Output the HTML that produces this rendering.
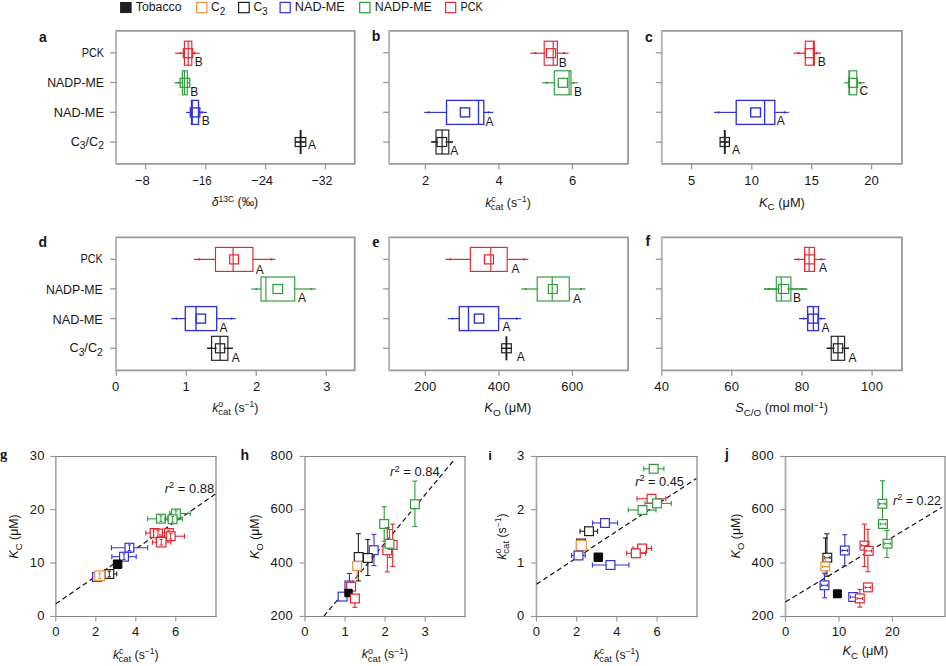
<!DOCTYPE html>
<html><head><meta charset="utf-8"><style>
html,body{margin:0;padding:0;background:#fff;}
svg{display:block;font-family:"Liberation Sans",sans-serif;}
</style></head><body>
<svg width="946" height="666" viewBox="0 0 946 666" fill="#161616">
<rect width="946" height="666" fill="#fff"/>
<rect x="120.60" y="2.50" width="10.50" height="10.10" stroke="#1e1e1e" stroke-width="1.0" fill="#1e1e1e"/>
<text x="135.8" y="11.3" font-size="12" text-anchor="start" textLength="45.7" lengthAdjust="spacingAndGlyphs">Tobacco</text>
<rect x="196.70" y="2.40" width="10.20" height="10.30" stroke="#e8913e" stroke-width="1.2" fill="none"/>
<text x="211.1" y="11.3" font-size="12" text-anchor="start">C<tspan font-size="10" dy="3.6">2</tspan></text>
<rect x="238.60" y="2.40" width="10.60" height="10.30" stroke="#1e1e1e" stroke-width="1.2" fill="none"/>
<text x="253.4" y="11.3" font-size="12" text-anchor="start">C<tspan font-size="10" dy="3.6">3</tspan></text>
<rect x="280.10" y="2.40" width="10.10" height="10.30" stroke="#3333d4" stroke-width="1.2" fill="none"/>
<text x="294.8" y="11.3" font-size="12" text-anchor="start" textLength="50" lengthAdjust="spacingAndGlyphs">NAD-ME</text>
<rect x="359.70" y="2.40" width="10.30" height="10.30" stroke="#2f9a3a" stroke-width="1.2" fill="none"/>
<text x="374.8" y="11.3" font-size="12" text-anchor="start" textLength="57" lengthAdjust="spacingAndGlyphs">NADP-ME</text>
<rect x="445.60" y="2.40" width="10.10" height="10.30" stroke="#e0262e" stroke-width="1.2" fill="none"/>
<text x="460.6" y="11.3" font-size="12" text-anchor="start" textLength="22.2" lengthAdjust="spacingAndGlyphs">PCK</text>
<path d="M116.1,30.8H354.7V163.9H116.1" fill="none" stroke="#999" stroke-width="1.8"/>
<line x1="116.1" y1="29.900000000000002" x2="116.1" y2="164.8" stroke="#b3b3b3" stroke-width="1.9"/>
<path d="M389.1,30.8H628.1V163.9H389.1" fill="none" stroke="#999" stroke-width="1.8"/>
<line x1="389.1" y1="29.900000000000002" x2="389.1" y2="164.8" stroke="#b3b3b3" stroke-width="1.9"/>
<path d="M661.8,30.8H901.9V163.9H661.8" fill="none" stroke="#999" stroke-width="1.8"/>
<line x1="661.8" y1="29.900000000000002" x2="661.8" y2="164.8" stroke="#b3b3b3" stroke-width="1.9"/>
<path d="M116.1,237.4H354.7V370.3H116.1" fill="none" stroke="#999" stroke-width="1.8"/>
<line x1="116.1" y1="236.5" x2="116.1" y2="371.2" stroke="#b3b3b3" stroke-width="1.9"/>
<path d="M389.1,237.4H628.1V370.3H389.1" fill="none" stroke="#999" stroke-width="1.8"/>
<line x1="389.1" y1="236.5" x2="389.1" y2="371.2" stroke="#b3b3b3" stroke-width="1.9"/>
<path d="M661.8,237.4H901.9V370.3H661.8" fill="none" stroke="#999" stroke-width="1.8"/>
<line x1="661.8" y1="236.5" x2="661.8" y2="371.2" stroke="#b3b3b3" stroke-width="1.9"/>
<line x1="110.1" y1="52.8" x2="116.1" y2="52.8" stroke="#9a9a9a" stroke-width="1.3"/>
<line x1="110.1" y1="82.5" x2="116.1" y2="82.5" stroke="#9a9a9a" stroke-width="1.3"/>
<line x1="110.1" y1="112.3" x2="116.1" y2="112.3" stroke="#9a9a9a" stroke-width="1.3"/>
<line x1="110.1" y1="142.1" x2="116.1" y2="142.1" stroke="#9a9a9a" stroke-width="1.3"/>
<line x1="383.1" y1="52.8" x2="389.1" y2="52.8" stroke="#9a9a9a" stroke-width="1.3"/>
<line x1="383.1" y1="82.5" x2="389.1" y2="82.5" stroke="#9a9a9a" stroke-width="1.3"/>
<line x1="383.1" y1="112.3" x2="389.1" y2="112.3" stroke="#9a9a9a" stroke-width="1.3"/>
<line x1="383.1" y1="142.1" x2="389.1" y2="142.1" stroke="#9a9a9a" stroke-width="1.3"/>
<line x1="655.8" y1="52.8" x2="661.8" y2="52.8" stroke="#9a9a9a" stroke-width="1.3"/>
<line x1="655.8" y1="82.5" x2="661.8" y2="82.5" stroke="#9a9a9a" stroke-width="1.3"/>
<line x1="655.8" y1="112.3" x2="661.8" y2="112.3" stroke="#9a9a9a" stroke-width="1.3"/>
<line x1="655.8" y1="142.1" x2="661.8" y2="142.1" stroke="#9a9a9a" stroke-width="1.3"/>
<line x1="110.1" y1="259.3" x2="116.1" y2="259.3" stroke="#9a9a9a" stroke-width="1.3"/>
<line x1="110.1" y1="288.9" x2="116.1" y2="288.9" stroke="#9a9a9a" stroke-width="1.3"/>
<line x1="110.1" y1="318.6" x2="116.1" y2="318.6" stroke="#9a9a9a" stroke-width="1.3"/>
<line x1="110.1" y1="348.3" x2="116.1" y2="348.3" stroke="#9a9a9a" stroke-width="1.3"/>
<line x1="383.1" y1="259.3" x2="389.1" y2="259.3" stroke="#9a9a9a" stroke-width="1.3"/>
<line x1="383.1" y1="288.9" x2="389.1" y2="288.9" stroke="#9a9a9a" stroke-width="1.3"/>
<line x1="383.1" y1="318.6" x2="389.1" y2="318.6" stroke="#9a9a9a" stroke-width="1.3"/>
<line x1="383.1" y1="348.3" x2="389.1" y2="348.3" stroke="#9a9a9a" stroke-width="1.3"/>
<line x1="655.8" y1="259.3" x2="661.8" y2="259.3" stroke="#9a9a9a" stroke-width="1.3"/>
<line x1="655.8" y1="288.9" x2="661.8" y2="288.9" stroke="#9a9a9a" stroke-width="1.3"/>
<line x1="655.8" y1="318.6" x2="661.8" y2="318.6" stroke="#9a9a9a" stroke-width="1.3"/>
<line x1="655.8" y1="348.3" x2="661.8" y2="348.3" stroke="#9a9a9a" stroke-width="1.3"/>
<text x="104" y="56.6" font-size="12.3" text-anchor="end" textLength="22.2" lengthAdjust="spacingAndGlyphs">PCK</text>
<text x="104" y="86.9" font-size="12.3" text-anchor="end" textLength="56.8" lengthAdjust="spacingAndGlyphs">NADP-ME</text>
<text x="104" y="116.9" font-size="12.3" text-anchor="end" textLength="50.3" lengthAdjust="spacingAndGlyphs">NAD-ME</text>
<text x="70.7" y="145.5" font-size="12.3" text-anchor="start" textLength="33.3" lengthAdjust="spacingAndGlyphs">C<tspan font-size="10" dy="3.6">3</tspan><tspan dy="-3.6">/C</tspan><tspan font-size="10" dy="3.6">2</tspan></text>
<text x="102.8" y="263.2" font-size="12.3" text-anchor="end" textLength="22.2" lengthAdjust="spacingAndGlyphs">PCK</text>
<text x="102.8" y="293.5" font-size="12.3" text-anchor="end" textLength="56.8" lengthAdjust="spacingAndGlyphs">NADP-ME</text>
<text x="102.8" y="323.5" font-size="12.3" text-anchor="end" textLength="50.3" lengthAdjust="spacingAndGlyphs">NAD-ME</text>
<text x="69.5" y="352.1" font-size="12.3" text-anchor="start" textLength="33.3" lengthAdjust="spacingAndGlyphs">C<tspan font-size="10" dy="3.6">3</tspan><tspan dy="-3.6">/C</tspan><tspan font-size="10" dy="3.6">2</tspan></text>
<line x1="145.6" y1="163.9" x2="145.6" y2="169.4" stroke="#9a9a9a" stroke-width="1.3"/>
<line x1="205.8" y1="163.9" x2="205.8" y2="169.4" stroke="#9a9a9a" stroke-width="1.3"/>
<line x1="265.6" y1="163.9" x2="265.6" y2="169.4" stroke="#9a9a9a" stroke-width="1.3"/>
<line x1="325.4" y1="163.9" x2="325.4" y2="169.4" stroke="#9a9a9a" stroke-width="1.3"/>
<line x1="425.4" y1="163.9" x2="425.4" y2="169.4" stroke="#9a9a9a" stroke-width="1.3"/>
<line x1="498.9" y1="163.9" x2="498.9" y2="169.4" stroke="#9a9a9a" stroke-width="1.3"/>
<line x1="572.4" y1="163.9" x2="572.4" y2="169.4" stroke="#9a9a9a" stroke-width="1.3"/>
<line x1="691.6" y1="163.9" x2="691.6" y2="169.4" stroke="#9a9a9a" stroke-width="1.3"/>
<line x1="751.8" y1="163.9" x2="751.8" y2="169.4" stroke="#9a9a9a" stroke-width="1.3"/>
<line x1="811.7" y1="163.9" x2="811.7" y2="169.4" stroke="#9a9a9a" stroke-width="1.3"/>
<line x1="871.6" y1="163.9" x2="871.6" y2="169.4" stroke="#9a9a9a" stroke-width="1.3"/>
<line x1="116.3" y1="370.3" x2="116.3" y2="375.8" stroke="#9a9a9a" stroke-width="1.3"/>
<line x1="186.3" y1="370.3" x2="186.3" y2="375.8" stroke="#9a9a9a" stroke-width="1.3"/>
<line x1="256.3" y1="370.3" x2="256.3" y2="375.8" stroke="#9a9a9a" stroke-width="1.3"/>
<line x1="326.3" y1="370.3" x2="326.3" y2="375.8" stroke="#9a9a9a" stroke-width="1.3"/>
<line x1="425.4" y1="370.3" x2="425.4" y2="375.8" stroke="#9a9a9a" stroke-width="1.3"/>
<line x1="499.0" y1="370.3" x2="499.0" y2="375.8" stroke="#9a9a9a" stroke-width="1.3"/>
<line x1="572.4" y1="370.3" x2="572.4" y2="375.8" stroke="#9a9a9a" stroke-width="1.3"/>
<line x1="661.8" y1="370.3" x2="661.8" y2="375.8" stroke="#9a9a9a" stroke-width="1.3"/>
<line x1="731.8" y1="370.3" x2="731.8" y2="375.8" stroke="#9a9a9a" stroke-width="1.3"/>
<line x1="802.0" y1="370.3" x2="802.0" y2="375.8" stroke="#9a9a9a" stroke-width="1.3"/>
<line x1="872.1" y1="370.3" x2="872.1" y2="375.8" stroke="#9a9a9a" stroke-width="1.3"/>
<text x="134.79999999999998" y="185.1" font-size="12.8" text-anchor="start" textLength="15.0" lengthAdjust="spacingAndGlyphs">−8</text>
<text x="192.29999999999998" y="185.1" font-size="12.8" text-anchor="start" textLength="19.2" lengthAdjust="spacingAndGlyphs">−16</text>
<text x="251.1" y="185.1" font-size="12.8" text-anchor="start" textLength="22.0" lengthAdjust="spacingAndGlyphs">−24</text>
<text x="311.59999999999997" y="185.1" font-size="12.8" text-anchor="start" textLength="20.8" lengthAdjust="spacingAndGlyphs">−32</text>
<text x="425.6" y="185.1" font-size="13" text-anchor="middle">2</text>
<text x="499.0" y="185.1" font-size="13" text-anchor="middle">4</text>
<text x="572.5" y="185.1" font-size="13" text-anchor="middle">6</text>
<text x="691.6" y="185.1" font-size="13" text-anchor="middle" letter-spacing="0.2">5</text>
<text x="751.8" y="185.1" font-size="13" text-anchor="middle" letter-spacing="0.2">10</text>
<text x="811.7" y="185.1" font-size="13" text-anchor="middle" letter-spacing="0.2">15</text>
<text x="871.6" y="185.1" font-size="13" text-anchor="middle" letter-spacing="0.2">20</text>
<text x="115.6" y="390.8" font-size="13" text-anchor="middle">0</text>
<text x="186.0" y="390.8" font-size="13" text-anchor="middle">1</text>
<text x="256.7" y="390.8" font-size="13" text-anchor="middle">2</text>
<text x="326.9" y="390.8" font-size="13" text-anchor="middle">3</text>
<text x="425.4" y="390.8" font-size="13" text-anchor="middle" letter-spacing="0.2">200</text>
<text x="499.0" y="390.8" font-size="13" text-anchor="middle" letter-spacing="0.2">400</text>
<text x="572.4" y="390.8" font-size="13" text-anchor="middle" letter-spacing="0.2">600</text>
<text x="661.8" y="390.8" font-size="13" text-anchor="middle" letter-spacing="0.2">40</text>
<text x="731.8" y="390.8" font-size="13" text-anchor="middle" letter-spacing="0.2">60</text>
<text x="802.1" y="390.8" font-size="13" text-anchor="middle" letter-spacing="0.2">80</text>
<text x="872.1" y="390.8" font-size="13" text-anchor="middle" letter-spacing="0.2">100</text>
<text x="211.7" y="206.2" font-size="12.3" text-anchor="start"><tspan font-style="italic">δ</tspan><tspan font-size="8.5" dy="-4.5">13C</tspan><tspan dy="4.5"> (‰)</tspan></text>
<text x="485.2" y="206.6" font-size="12.3" text-anchor="start"><tspan font-style="italic">k</tspan><tspan font-size="8.8" dy="-4.3">c</tspan><tspan font-size="9.5" dx="-5" dy="8">cat</tspan><tspan dy="-3.7"> (s</tspan><tspan font-size="8.5" dy="-4.3">−1</tspan><tspan dy="4.3">)</tspan></text>
<text x="758.9" y="206.6" font-size="12.3" text-anchor="start" textLength="46" lengthAdjust="spacingAndGlyphs"><tspan font-style="italic">K</tspan><tspan font-size="9.5" dy="3.5">C</tspan><tspan dy="-3.5"> (μM)</tspan></text>
<text x="212.2" y="411.7" font-size="12.3" text-anchor="start"><tspan font-style="italic">k</tspan><tspan font-size="8.8" dy="-4.3">o</tspan><tspan font-size="9.5" dx="-5" dy="8">cat</tspan><tspan dy="-3.7"> (s</tspan><tspan font-size="8.5" dy="-4.3">−1</tspan><tspan dy="4.3">)</tspan></text>
<text x="484.3" y="412.0" font-size="12.3" text-anchor="start" textLength="47" lengthAdjust="spacingAndGlyphs"><tspan font-style="italic">K</tspan><tspan font-size="9.5" dy="3.5">O</tspan><tspan dy="-3.5"> (μM)</tspan></text>
<text x="735.2" y="412.0" font-size="12.3" text-anchor="start" textLength="92.8" lengthAdjust="spacingAndGlyphs"><tspan font-style="italic">S</tspan><tspan font-size="9.5" dy="3.5">C/O</tspan><tspan dy="-3.5"> (mol mol</tspan><tspan font-size="8.5" dy="-4.3">−1</tspan><tspan dy="4.3">)</tspan></text>
<text x="39" y="41.6" font-size="14" text-anchor="start" font-weight="bold">a</text>
<text x="371.7" y="41.4" font-size="14" text-anchor="start" font-weight="bold">b</text>
<text x="645" y="41.6" font-size="14" text-anchor="start" font-weight="bold">c</text>
<text x="38.4" y="246.5" font-size="14" text-anchor="start" font-weight="bold">d</text>
<text x="372.3" y="246.8" font-size="16" text-anchor="start" font-family="Liberation Serif" font-weight="bold">e</text>
<text x="645.6" y="246.4" font-size="14" text-anchor="start" font-weight="bold">f</text>
<line x1="175.2" y1="53.2" x2="184.4" y2="53.2" stroke="#e0262e" stroke-width="1.2"/>
<line x1="191.8" y1="53.2" x2="199.7" y2="53.2" stroke="#e0262e" stroke-width="1.2"/>
<circle cx="180.4" cy="53.2" r="1.1" fill="#e0262e"/>
<circle cx="194.5" cy="53.2" r="1.1" fill="#e0262e"/>
<rect x="184.40" y="41.20" width="7.40" height="24.00" stroke="#e0262e" stroke-width="1.15" fill="none"/>
<line x1="188.2" y1="41.2" x2="188.2" y2="65.2" stroke="#e0262e" stroke-width="1.15"/>
<rect x="183.30" y="48.70" width="9.40" height="9.00" stroke="#e0262e" stroke-width="1.2" fill="none"/>
<text x="194.79999999999998" y="65.9" font-size="12" text-anchor="start">B</text>
<line x1="174.5" y1="82.8" x2="182.4" y2="82.8" stroke="#2f9a3a" stroke-width="1.2"/>
<line x1="187.3" y1="82.8" x2="189.5" y2="82.8" stroke="#2f9a3a" stroke-width="1.2"/>
<circle cx="178.5" cy="82.8" r="1.1" fill="#2f9a3a"/>
<rect x="182.40" y="70.80" width="4.90" height="24.00" stroke="#2f9a3a" stroke-width="1.15" fill="none"/>
<line x1="184.4" y1="70.8" x2="184.4" y2="94.8" stroke="#2f9a3a" stroke-width="1.15"/>
<rect x="180.10" y="78.30" width="9.70" height="9.00" stroke="#2f9a3a" stroke-width="1.2" fill="none"/>
<text x="190.29999999999998" y="96.4" font-size="12" text-anchor="start">B</text>
<line x1="186.1" y1="112.4" x2="191.5" y2="112.4" stroke="#3333d4" stroke-width="1.2"/>
<line x1="198.5" y1="112.4" x2="206.8" y2="112.4" stroke="#3333d4" stroke-width="1.2"/>
<circle cx="202.0" cy="112.4" r="1.1" fill="#3333d4"/>
<rect x="191.50" y="100.40" width="7.00" height="24.00" stroke="#3333d4" stroke-width="1.35" fill="none"/>
<line x1="192.2" y1="100.4" x2="192.2" y2="124.4" stroke="#3333d4" stroke-width="1.35"/>
<rect x="190.40" y="107.90" width="9.40" height="9.00" stroke="#3333d4" stroke-width="1.4000000000000001" fill="none"/>
<text x="201.79999999999998" y="125.3" font-size="12" text-anchor="start">B</text>
<line x1="295.2" y1="142.0" x2="299.9" y2="142.0" stroke="#1e1e1e" stroke-width="1.2"/>
<line x1="301.4" y1="142.0" x2="305.8" y2="142.0" stroke="#1e1e1e" stroke-width="1.2"/>
<line x1="300.65" y1="130.0" x2="300.65" y2="154.0" stroke="#1e1e1e" stroke-width="1.9"/>
<rect x="295.20" y="137.50" width="10.60" height="9.00" stroke="#1e1e1e" stroke-width="1.2" fill="none"/>
<text x="307.9" y="148.7" font-size="12" text-anchor="start">A</text>
<line x1="295.2" y1="142.0" x2="305.8" y2="142.0" stroke="#1e1e1e" stroke-width="1.1"/>
<line x1="530.4" y1="53.2" x2="544.2" y2="53.2" stroke="#e0262e" stroke-width="1.2"/>
<line x1="557.4" y1="53.2" x2="568.7" y2="53.2" stroke="#e0262e" stroke-width="1.2"/>
<circle cx="535.4" cy="53.2" r="1.1" fill="#e0262e"/>
<circle cx="563.9" cy="53.2" r="1.1" fill="#e0262e"/>
<rect x="544.20" y="41.20" width="13.20" height="24.00" stroke="#e0262e" stroke-width="1.15" fill="none"/>
<line x1="553.2" y1="41.2" x2="553.2" y2="65.2" stroke="#e0262e" stroke-width="1.15"/>
<rect x="546.40" y="48.70" width="9.20" height="9.00" stroke="#e0262e" stroke-width="1.2" fill="none"/>
<text x="558.8000000000001" y="66.6" font-size="12" text-anchor="start">B</text>
<line x1="542.1" y1="82.8" x2="554.3" y2="82.8" stroke="#2f9a3a" stroke-width="1.2"/>
<line x1="571.0" y1="82.8" x2="577.7" y2="82.8" stroke="#2f9a3a" stroke-width="1.2"/>
<circle cx="547.1" cy="82.8" r="1.1" fill="#2f9a3a"/>
<circle cx="573.6" cy="82.8" r="1.1" fill="#2f9a3a"/>
<rect x="554.30" y="70.80" width="16.70" height="24.00" stroke="#2f9a3a" stroke-width="1.15" fill="none"/>
<line x1="569.1" y1="70.8" x2="569.1" y2="94.8" stroke="#2f9a3a" stroke-width="1.15"/>
<rect x="558.30" y="78.30" width="9.20" height="9.00" stroke="#2f9a3a" stroke-width="1.2" fill="none"/>
<text x="574.1" y="96.1" font-size="12" text-anchor="start">B</text>
<line x1="424.2" y1="112.4" x2="446.5" y2="112.4" stroke="#3333d4" stroke-width="1.2"/>
<line x1="483.8" y1="112.4" x2="493.3" y2="112.4" stroke="#3333d4" stroke-width="1.2"/>
<circle cx="428.7" cy="112.4" r="1.1" fill="#3333d4"/>
<circle cx="488.5" cy="112.4" r="1.1" fill="#3333d4"/>
<rect x="446.50" y="100.40" width="37.30" height="24.00" stroke="#3333d4" stroke-width="1.35" fill="none"/>
<line x1="478.5" y1="100.4" x2="478.5" y2="124.4" stroke="#3333d4" stroke-width="1.35"/>
<rect x="460.40" y="107.90" width="9.20" height="9.00" stroke="#3333d4" stroke-width="1.4000000000000001" fill="none"/>
<text x="485.6" y="126.2" font-size="12" text-anchor="start">A</text>
<line x1="431.3" y1="142.0" x2="438.2" y2="142.0" stroke="#1e1e1e" stroke-width="1.2"/>
<line x1="445.5" y1="142.0" x2="453.0" y2="142.0" stroke="#1e1e1e" stroke-width="1.2"/>
<line x1="431.3" y1="142.0" x2="436.0" y2="142.0" stroke="#1e1e1e" stroke-width="1.2"/>
<line x1="448.8" y1="142.0" x2="453.0" y2="142.0" stroke="#1e1e1e" stroke-width="1.2"/>
<rect x="436.00" y="130.00" width="12.80" height="24.00" stroke="#1e1e1e" stroke-width="1.15" fill="none"/>
<line x1="442.1" y1="130.0" x2="442.1" y2="154.0" stroke="#1e1e1e" stroke-width="1.15"/>
<rect x="437.00" y="137.50" width="9.70" height="9.00" stroke="#1e1e1e" stroke-width="1.2" fill="none"/>
<text x="450.2" y="155.1" font-size="12" text-anchor="start">A</text>
<line x1="793.6" y1="53.2" x2="805.3" y2="53.2" stroke="#e0262e" stroke-width="1.2"/>
<line x1="814.3" y1="53.2" x2="821.1" y2="53.2" stroke="#e0262e" stroke-width="1.2"/>
<circle cx="798.6" cy="53.2" r="1.1" fill="#e0262e"/>
<circle cx="816.6" cy="53.2" r="1.1" fill="#e0262e"/>
<rect x="805.30" y="41.20" width="9.00" height="24.00" stroke="#e0262e" stroke-width="1.15" fill="none"/>
<line x1="813.4" y1="41.2" x2="813.4" y2="65.2" stroke="#e0262e" stroke-width="1.15"/>
<rect x="805.30" y="48.70" width="9.00" height="9.00" stroke="#e0262e" stroke-width="1.2" fill="none"/>
<text x="817.7" y="65.5" font-size="12" text-anchor="start">B</text>
<line x1="844.0" y1="82.8" x2="849.0" y2="82.8" stroke="#2f9a3a" stroke-width="1.2"/>
<line x1="856.8" y1="82.8" x2="864.8" y2="82.8" stroke="#2f9a3a" stroke-width="1.2"/>
<circle cx="860.3" cy="82.8" r="1.1" fill="#2f9a3a"/>
<rect x="849.00" y="70.80" width="7.80" height="24.00" stroke="#2f9a3a" stroke-width="1.15" fill="none"/>
<line x1="849.5" y1="70.8" x2="849.5" y2="94.8" stroke="#2f9a3a" stroke-width="1.15"/>
<rect x="848.50" y="78.30" width="9.00" height="9.00" stroke="#2f9a3a" stroke-width="1.2" fill="none"/>
<text x="859.4" y="95.2" font-size="12" text-anchor="start">C</text>
<line x1="714.0" y1="112.4" x2="736.2" y2="112.4" stroke="#3333d4" stroke-width="1.2"/>
<line x1="774.8" y1="112.4" x2="788.8" y2="112.4" stroke="#3333d4" stroke-width="1.2"/>
<circle cx="718.5" cy="112.4" r="1.1" fill="#3333d4"/>
<circle cx="784.6" cy="112.4" r="1.1" fill="#3333d4"/>
<rect x="736.20" y="100.40" width="38.60" height="24.00" stroke="#3333d4" stroke-width="1.35" fill="none"/>
<line x1="764.6" y1="100.4" x2="764.6" y2="124.4" stroke="#3333d4" stroke-width="1.35"/>
<rect x="750.70" y="107.90" width="9.80" height="9.00" stroke="#3333d4" stroke-width="1.4000000000000001" fill="none"/>
<text x="776.8" y="124.8" font-size="12" text-anchor="start">A</text>
<line x1="720.1" y1="142.0" x2="723.9" y2="142.0" stroke="#1e1e1e" stroke-width="1.2"/>
<line x1="725.7" y1="142.0" x2="729.4" y2="142.0" stroke="#1e1e1e" stroke-width="1.2"/>
<line x1="724.8" y1="130.0" x2="724.8" y2="154.0" stroke="#1e1e1e" stroke-width="1.9"/>
<rect x="720.10" y="137.50" width="9.30" height="9.00" stroke="#1e1e1e" stroke-width="1.2" fill="none"/>
<text x="731.9" y="154.4" font-size="12" text-anchor="start">A</text>
<line x1="720.1" y1="142.0" x2="729.4" y2="142.0" stroke="#1e1e1e" stroke-width="1.1"/>
<line x1="193.8" y1="259.4" x2="215.5" y2="259.4" stroke="#e0262e" stroke-width="1.2"/>
<line x1="252.9" y1="259.4" x2="275.3" y2="259.4" stroke="#e0262e" stroke-width="1.2"/>
<circle cx="199.0" cy="259.4" r="1.1" fill="#e0262e"/>
<circle cx="271.2" cy="259.4" r="1.1" fill="#e0262e"/>
<rect x="215.50" y="247.40" width="37.40" height="24.00" stroke="#e0262e" stroke-width="1.15" fill="none"/>
<line x1="233.1" y1="247.39999999999998" x2="233.1" y2="271.4" stroke="#e0262e" stroke-width="1.15"/>
<rect x="229.70" y="254.90" width="8.80" height="9.00" stroke="#e0262e" stroke-width="1.2" fill="none"/>
<text x="255.8" y="273.5" font-size="12" text-anchor="start">A</text>
<line x1="251.3" y1="289.0" x2="261.0" y2="289.0" stroke="#2f9a3a" stroke-width="1.2"/>
<line x1="294.7" y1="289.0" x2="315.8" y2="289.0" stroke="#2f9a3a" stroke-width="1.2"/>
<circle cx="256.3" cy="289.0" r="1.1" fill="#2f9a3a"/>
<circle cx="311.3" cy="289.0" r="1.1" fill="#2f9a3a"/>
<rect x="261.00" y="277.00" width="33.70" height="24.00" stroke="#2f9a3a" stroke-width="1.15" fill="none"/>
<line x1="265.9" y1="277.0" x2="265.9" y2="301.0" stroke="#2f9a3a" stroke-width="1.15"/>
<rect x="273.00" y="284.50" width="9.60" height="9.00" stroke="#2f9a3a" stroke-width="1.2" fill="none"/>
<text x="298.0" y="301.5" font-size="12" text-anchor="start">A</text>
<line x1="171.3" y1="318.6" x2="185.3" y2="318.6" stroke="#3333d4" stroke-width="1.2"/>
<line x1="216.7" y1="318.6" x2="235.7" y2="318.6" stroke="#3333d4" stroke-width="1.2"/>
<circle cx="176.5" cy="318.6" r="1.1" fill="#3333d4"/>
<circle cx="231.3" cy="318.6" r="1.1" fill="#3333d4"/>
<rect x="185.30" y="306.60" width="31.40" height="24.00" stroke="#3333d4" stroke-width="1.35" fill="none"/>
<line x1="196.0" y1="306.6" x2="196.0" y2="330.6" stroke="#3333d4" stroke-width="1.35"/>
<rect x="196.20" y="314.10" width="9.30" height="9.00" stroke="#3333d4" stroke-width="1.4000000000000001" fill="none"/>
<text x="219.6" y="332.0" font-size="12" text-anchor="start">A</text>
<line x1="207.1" y1="348.3" x2="216.7" y2="348.3" stroke="#1e1e1e" stroke-width="1.2"/>
<line x1="223.5" y1="348.3" x2="232.8" y2="348.3" stroke="#1e1e1e" stroke-width="1.2"/>
<line x1="207.1" y1="348.3" x2="211.6" y2="348.3" stroke="#1e1e1e" stroke-width="1.2"/>
<line x1="227.9" y1="348.3" x2="232.8" y2="348.3" stroke="#1e1e1e" stroke-width="1.2"/>
<rect x="211.60" y="336.30" width="16.30" height="24.00" stroke="#1e1e1e" stroke-width="1.15" fill="none"/>
<line x1="220.1" y1="336.3" x2="220.1" y2="360.3" stroke="#1e1e1e" stroke-width="1.15"/>
<rect x="215.50" y="343.80" width="9.20" height="9.00" stroke="#1e1e1e" stroke-width="1.2" fill="none"/>
<text x="231.8" y="362.0" font-size="12" text-anchor="start">A</text>
<line x1="445.4" y1="259.4" x2="470.3" y2="259.4" stroke="#e0262e" stroke-width="1.2"/>
<line x1="507.2" y1="259.4" x2="528.4" y2="259.4" stroke="#e0262e" stroke-width="1.2"/>
<circle cx="450.3" cy="259.4" r="1.1" fill="#e0262e"/>
<circle cx="523.8" cy="259.4" r="1.1" fill="#e0262e"/>
<rect x="470.30" y="247.40" width="36.90" height="24.00" stroke="#e0262e" stroke-width="1.15" fill="none"/>
<line x1="490.8" y1="247.39999999999998" x2="490.8" y2="271.4" stroke="#e0262e" stroke-width="1.15"/>
<rect x="484.40" y="254.90" width="9.10" height="9.00" stroke="#e0262e" stroke-width="1.2" fill="none"/>
<text x="511.5" y="272.6" font-size="12" text-anchor="start">A</text>
<line x1="521.1" y1="289.0" x2="537.2" y2="289.0" stroke="#2f9a3a" stroke-width="1.2"/>
<line x1="569.3" y1="289.0" x2="585.6" y2="289.0" stroke="#2f9a3a" stroke-width="1.2"/>
<circle cx="525.6" cy="289.0" r="1.1" fill="#2f9a3a"/>
<circle cx="581.0" cy="289.0" r="1.1" fill="#2f9a3a"/>
<rect x="537.20" y="277.00" width="32.10" height="24.00" stroke="#2f9a3a" stroke-width="1.15" fill="none"/>
<line x1="552.2" y1="277.0" x2="552.2" y2="301.0" stroke="#2f9a3a" stroke-width="1.15"/>
<rect x="548.40" y="284.50" width="8.90" height="9.00" stroke="#2f9a3a" stroke-width="1.2" fill="none"/>
<text x="572.9" y="302.6" font-size="12" text-anchor="start">A</text>
<line x1="447.8" y1="318.6" x2="459.3" y2="318.6" stroke="#3333d4" stroke-width="1.2"/>
<line x1="498.6" y1="318.6" x2="521.1" y2="318.6" stroke="#3333d4" stroke-width="1.2"/>
<circle cx="452.5" cy="318.6" r="1.1" fill="#3333d4"/>
<circle cx="516.7" cy="318.6" r="1.1" fill="#3333d4"/>
<rect x="459.30" y="306.60" width="39.30" height="24.00" stroke="#3333d4" stroke-width="1.35" fill="none"/>
<line x1="468.5" y1="306.6" x2="468.5" y2="330.6" stroke="#3333d4" stroke-width="1.35"/>
<rect x="474.40" y="314.10" width="9.30" height="9.00" stroke="#3333d4" stroke-width="1.4000000000000001" fill="none"/>
<text x="502.5" y="331.4" font-size="12" text-anchor="start">A</text>
<line x1="501.7" y1="348.3" x2="505.6" y2="348.3" stroke="#1e1e1e" stroke-width="1.2"/>
<line x1="507.2" y1="348.3" x2="511.3" y2="348.3" stroke="#1e1e1e" stroke-width="1.2"/>
<line x1="506.4" y1="336.3" x2="506.4" y2="360.3" stroke="#1e1e1e" stroke-width="1.9"/>
<rect x="501.70" y="343.80" width="9.60" height="9.00" stroke="#1e1e1e" stroke-width="1.2" fill="none"/>
<text x="516.7" y="360.5" font-size="12" text-anchor="start">A</text>
<line x1="501.7" y1="348.3" x2="511.3" y2="348.3" stroke="#1e1e1e" stroke-width="1.1"/>
<line x1="793.8" y1="259.4" x2="804.6" y2="259.4" stroke="#e0262e" stroke-width="1.2"/>
<line x1="814.5" y1="259.4" x2="825.4" y2="259.4" stroke="#e0262e" stroke-width="1.2"/>
<circle cx="798.4" cy="259.4" r="1.1" fill="#e0262e"/>
<circle cx="821.3" cy="259.4" r="1.1" fill="#e0262e"/>
<rect x="804.60" y="247.40" width="9.90" height="24.00" stroke="#e0262e" stroke-width="1.15" fill="none"/>
<line x1="809.1" y1="247.39999999999998" x2="809.1" y2="271.4" stroke="#e0262e" stroke-width="1.15"/>
<rect x="804.60" y="254.90" width="9.90" height="9.00" stroke="#e0262e" stroke-width="1.2" fill="none"/>
<text x="818.9" y="272.3" font-size="12" text-anchor="start">A</text>
<line x1="764.0" y1="289.0" x2="779.6" y2="289.0" stroke="#2f9a3a" stroke-width="1.2"/>
<line x1="787.5" y1="289.0" x2="807.2" y2="289.0" stroke="#2f9a3a" stroke-width="1.2"/>
<line x1="764.0" y1="289.0" x2="776.3" y2="289.0" stroke="#2f9a3a" stroke-width="1.2"/>
<line x1="790.9" y1="289.0" x2="807.2" y2="289.0" stroke="#2f9a3a" stroke-width="1.2"/>
<circle cx="768.7" cy="289.0" r="1.1" fill="#2f9a3a"/>
<circle cx="802.6" cy="289.0" r="1.1" fill="#2f9a3a"/>
<rect x="776.30" y="277.00" width="14.60" height="24.00" stroke="#2f9a3a" stroke-width="1.15" fill="none"/>
<line x1="781.3" y1="277.0" x2="781.3" y2="301.0" stroke="#2f9a3a" stroke-width="1.15"/>
<rect x="778.40" y="284.50" width="10.30" height="9.00" stroke="#2f9a3a" stroke-width="1.2" fill="none"/>
<text x="792.9" y="302.0" font-size="12" text-anchor="start">B</text>
<line x1="799.0" y1="318.6" x2="807.6" y2="318.6" stroke="#3333d4" stroke-width="1.2"/>
<line x1="818.5" y1="318.6" x2="825.6" y2="318.6" stroke="#3333d4" stroke-width="1.2"/>
<circle cx="803.7" cy="318.6" r="1.1" fill="#3333d4"/>
<circle cx="821.0" cy="318.6" r="1.1" fill="#3333d4"/>
<rect x="807.60" y="306.60" width="10.90" height="24.00" stroke="#3333d4" stroke-width="1.35" fill="none"/>
<line x1="813.4" y1="306.6" x2="813.4" y2="330.6" stroke="#3333d4" stroke-width="1.35"/>
<rect x="808.00" y="314.10" width="10.00" height="9.00" stroke="#3333d4" stroke-width="1.4000000000000001" fill="none"/>
<text x="821.4" y="332.2" font-size="12" text-anchor="start">A</text>
<line x1="826.6" y1="348.3" x2="834.6" y2="348.3" stroke="#1e1e1e" stroke-width="1.2"/>
<line x1="841.5" y1="348.3" x2="849.0" y2="348.3" stroke="#1e1e1e" stroke-width="1.2"/>
<line x1="826.6" y1="348.3" x2="831.2" y2="348.3" stroke="#1e1e1e" stroke-width="1.2"/>
<line x1="844.6" y1="348.3" x2="849.0" y2="348.3" stroke="#1e1e1e" stroke-width="1.2"/>
<rect x="831.20" y="336.30" width="13.40" height="24.00" stroke="#1e1e1e" stroke-width="1.15" fill="none"/>
<line x1="838.0" y1="336.3" x2="838.0" y2="360.3" stroke="#1e1e1e" stroke-width="1.15"/>
<rect x="833.40" y="343.80" width="9.30" height="9.00" stroke="#1e1e1e" stroke-width="1.2" fill="none"/>
<text x="848.5" y="361.5" font-size="12" text-anchor="start">A</text>
<path d="M55.8,456.5V616.5M216.0,456.5V616.5" fill="none" stroke="#a8a8a8" stroke-width="1.7"/>
<path d="M55.0,456.5H216.8M55.0,616.5H216.8" fill="none" stroke="#858585" stroke-width="1.2"/>
<path d="M305.0,456.5V616.5M465.0,456.5V616.5" fill="none" stroke="#a8a8a8" stroke-width="1.7"/>
<path d="M304.2,456.5H465.8M304.2,616.5H465.8" fill="none" stroke="#858585" stroke-width="1.2"/>
<path d="M536.5,456.5V616.5M697.0,456.5V616.5" fill="none" stroke="#a8a8a8" stroke-width="1.7"/>
<path d="M535.7,456.5H697.8M535.7,616.5H697.8" fill="none" stroke="#858585" stroke-width="1.2"/>
<path d="M785.5,456.5V616.5M945.0,456.5V616.5" fill="none" stroke="#a8a8a8" stroke-width="1.7"/>
<path d="M784.7,456.5H945.8M784.7,616.5H945.8" fill="none" stroke="#858585" stroke-width="1.2"/>
<line x1="50.3" y1="616.5" x2="55.8" y2="616.5" stroke="#9a9a9a" stroke-width="1.2"/>
<line x1="50.3" y1="563.0" x2="55.8" y2="563.0" stroke="#9a9a9a" stroke-width="1.2"/>
<line x1="50.3" y1="509.6" x2="55.8" y2="509.6" stroke="#9a9a9a" stroke-width="1.2"/>
<line x1="50.3" y1="456.5" x2="55.8" y2="456.5" stroke="#9a9a9a" stroke-width="1.2"/>
<line x1="299.5" y1="616.5" x2="305.0" y2="616.5" stroke="#9a9a9a" stroke-width="1.2"/>
<line x1="299.5" y1="563.0" x2="305.0" y2="563.0" stroke="#9a9a9a" stroke-width="1.2"/>
<line x1="299.5" y1="509.6" x2="305.0" y2="509.6" stroke="#9a9a9a" stroke-width="1.2"/>
<line x1="299.5" y1="456.5" x2="305.0" y2="456.5" stroke="#9a9a9a" stroke-width="1.2"/>
<line x1="531.0" y1="616.5" x2="536.5" y2="616.5" stroke="#9a9a9a" stroke-width="1.2"/>
<line x1="531.0" y1="563.0" x2="536.5" y2="563.0" stroke="#9a9a9a" stroke-width="1.2"/>
<line x1="531.0" y1="509.6" x2="536.5" y2="509.6" stroke="#9a9a9a" stroke-width="1.2"/>
<line x1="531.0" y1="456.5" x2="536.5" y2="456.5" stroke="#9a9a9a" stroke-width="1.2"/>
<line x1="780.0" y1="616.5" x2="785.5" y2="616.5" stroke="#9a9a9a" stroke-width="1.2"/>
<line x1="780.0" y1="563.0" x2="785.5" y2="563.0" stroke="#9a9a9a" stroke-width="1.2"/>
<line x1="780.0" y1="509.6" x2="785.5" y2="509.6" stroke="#9a9a9a" stroke-width="1.2"/>
<line x1="780.0" y1="456.5" x2="785.5" y2="456.5" stroke="#9a9a9a" stroke-width="1.2"/>
<line x1="55.8" y1="616.5" x2="55.8" y2="621.5" stroke="#9a9a9a" stroke-width="1.2"/>
<line x1="95.8" y1="616.5" x2="95.8" y2="621.5" stroke="#9a9a9a" stroke-width="1.2"/>
<line x1="135.8" y1="616.5" x2="135.8" y2="621.5" stroke="#9a9a9a" stroke-width="1.2"/>
<line x1="175.8" y1="616.5" x2="175.8" y2="621.5" stroke="#9a9a9a" stroke-width="1.2"/>
<line x1="305.0" y1="616.5" x2="305.0" y2="621.5" stroke="#9a9a9a" stroke-width="1.2"/>
<line x1="345.1" y1="616.5" x2="345.1" y2="621.5" stroke="#9a9a9a" stroke-width="1.2"/>
<line x1="385.1" y1="616.5" x2="385.1" y2="621.5" stroke="#9a9a9a" stroke-width="1.2"/>
<line x1="425.2" y1="616.5" x2="425.2" y2="621.5" stroke="#9a9a9a" stroke-width="1.2"/>
<line x1="536.5" y1="616.5" x2="536.5" y2="621.5" stroke="#9a9a9a" stroke-width="1.2"/>
<line x1="576.7" y1="616.5" x2="576.7" y2="621.5" stroke="#9a9a9a" stroke-width="1.2"/>
<line x1="616.9" y1="616.5" x2="616.9" y2="621.5" stroke="#9a9a9a" stroke-width="1.2"/>
<line x1="657.1" y1="616.5" x2="657.1" y2="621.5" stroke="#9a9a9a" stroke-width="1.2"/>
<line x1="785.5" y1="616.5" x2="785.5" y2="621.5" stroke="#9a9a9a" stroke-width="1.2"/>
<line x1="839.0" y1="616.5" x2="839.0" y2="621.5" stroke="#9a9a9a" stroke-width="1.2"/>
<line x1="892.4" y1="616.5" x2="892.4" y2="621.5" stroke="#9a9a9a" stroke-width="1.2"/>
<text x="44.8" y="620.2" font-size="13" text-anchor="end" letter-spacing="0.25">0</text>
<text x="44.8" y="567.2" font-size="13" text-anchor="end" letter-spacing="0.25">10</text>
<text x="44.8" y="513.6" font-size="13" text-anchor="end" letter-spacing="0.25">20</text>
<text x="44.8" y="460.3" font-size="13" text-anchor="end" letter-spacing="0.25">30</text>
<text x="293.0" y="619.9" font-size="13" text-anchor="end" letter-spacing="0.25">200</text>
<text x="293.0" y="566.7" font-size="13" text-anchor="end" letter-spacing="0.25">400</text>
<text x="293.0" y="513.3" font-size="13" text-anchor="end" letter-spacing="0.25">600</text>
<text x="293.0" y="460.1" font-size="13" text-anchor="end" letter-spacing="0.25">800</text>
<text x="524.6" y="620.2" font-size="13" text-anchor="end" letter-spacing="0.25">0</text>
<text x="524.6" y="567.2" font-size="13" text-anchor="end" letter-spacing="0.25">1</text>
<text x="524.6" y="513.6" font-size="13" text-anchor="end" letter-spacing="0.25">2</text>
<text x="524.6" y="460.3" font-size="13" text-anchor="end" letter-spacing="0.25">3</text>
<text x="774.0" y="619.9" font-size="13" text-anchor="end" letter-spacing="0.25">200</text>
<text x="774.0" y="566.7" font-size="13" text-anchor="end" letter-spacing="0.25">400</text>
<text x="774.0" y="513.3" font-size="13" text-anchor="end" letter-spacing="0.25">600</text>
<text x="774.0" y="460.1" font-size="13" text-anchor="end" letter-spacing="0.25">800</text>
<text x="56.0" y="636.3" font-size="13" text-anchor="middle" letter-spacing="0.2">0</text>
<text x="95.8" y="636.3" font-size="13" text-anchor="middle" letter-spacing="0.2">2</text>
<text x="135.8" y="636.3" font-size="13" text-anchor="middle" letter-spacing="0.2">4</text>
<text x="175.8" y="636.3" font-size="13" text-anchor="middle" letter-spacing="0.2">6</text>
<text x="305.0" y="636.3" font-size="13" text-anchor="middle" letter-spacing="0.2">0</text>
<text x="345.1" y="636.3" font-size="13" text-anchor="middle" letter-spacing="0.2">1</text>
<text x="385.1" y="636.3" font-size="13" text-anchor="middle" letter-spacing="0.2">2</text>
<text x="425.2" y="636.3" font-size="13" text-anchor="middle" letter-spacing="0.2">3</text>
<text x="536.5" y="636.3" font-size="13" text-anchor="middle" letter-spacing="0.2">0</text>
<text x="576.7" y="636.3" font-size="13" text-anchor="middle" letter-spacing="0.2">2</text>
<text x="616.9" y="636.3" font-size="13" text-anchor="middle" letter-spacing="0.2">4</text>
<text x="657.1" y="636.3" font-size="13" text-anchor="middle" letter-spacing="0.2">6</text>
<text x="785.6" y="636.3" font-size="13" text-anchor="middle" letter-spacing="0.2">0</text>
<text x="839.1" y="636.3" font-size="13" text-anchor="middle" letter-spacing="0.2">10</text>
<text x="892.5" y="636.3" font-size="13" text-anchor="middle" letter-spacing="0.2">20</text>
<text x="112.9" y="658.5" font-size="12.3" text-anchor="start"><tspan font-style="italic">k</tspan><tspan font-size="8.8" dy="-4.3">c</tspan><tspan font-size="9.5" dx="-5" dy="8">cat</tspan><tspan dy="-3.7"> (s</tspan><tspan font-size="8.5" dy="-4.3">−1</tspan><tspan dy="4.3">)</tspan></text>
<text x="361.8" y="657.8" font-size="12.3" text-anchor="start"><tspan font-style="italic">k</tspan><tspan font-size="8.8" dy="-4.3">o</tspan><tspan font-size="9.5" dx="-5" dy="8">cat</tspan><tspan dy="-3.7"> (s</tspan><tspan font-size="8.5" dy="-4.3">−1</tspan><tspan dy="4.3">)</tspan></text>
<text x="593.7" y="658.6" font-size="12.3" text-anchor="start"><tspan font-style="italic">k</tspan><tspan font-size="8.8" dy="-4.3">c</tspan><tspan font-size="9.5" dx="-5" dy="8">cat</tspan><tspan dy="-3.7"> (s</tspan><tspan font-size="8.5" dy="-4.3">−1</tspan><tspan dy="4.3">)</tspan></text>
<text x="842.4" y="655.0" font-size="12.3" text-anchor="start" textLength="45.8" lengthAdjust="spacingAndGlyphs"><tspan font-style="italic">K</tspan><tspan font-size="9.5" dy="3.5">C</tspan><tspan dy="-3.5"> (μM)</tspan></text>
<text transform="translate(18.0,536.4) rotate(-90)" x="0" y="0" font-size="12.3" text-anchor="middle"><tspan font-style="italic">K</tspan><tspan font-size="9.5" dy="3.5">C</tspan><tspan dy="-3.5"> (μM)</tspan></text>
<text transform="translate(259.2,536.6) rotate(-90)" x="0" y="0" font-size="12.3" text-anchor="middle"><tspan font-style="italic">K</tspan><tspan font-size="9.5" dy="3.5">O</tspan><tspan dy="-3.5"> (μM)</tspan></text>
<text transform="translate(505.5,536.6) rotate(-90)" x="0" y="0" font-size="12.3" text-anchor="middle"><tspan font-style="italic">k</tspan><tspan font-size="8.8" dy="-4.3">o</tspan><tspan font-size="9.5" dx="-5" dy="8">cat</tspan><tspan dy="-3.7"> (s</tspan><tspan font-size="8.5" dy="-4.3">−1</tspan><tspan dy="4.3">)</tspan></text>
<text transform="translate(740.3,535.9) rotate(-90)" x="0" y="0" font-size="12.3" text-anchor="middle"><tspan font-style="italic">K</tspan><tspan font-size="9.5" dy="3.5">O</tspan><tspan dy="-3.5"> (μM)</tspan></text>
<text x="0" y="459.2" font-size="14.5" text-anchor="start" font-family="Liberation Serif" font-weight="bold">g</text>
<text x="240.6" y="459.7" font-size="14" text-anchor="start" font-weight="bold">h</text>
<text x="488.2" y="459.9" font-size="13.5" text-anchor="start" font-weight="bold">i</text>
<text x="725.0" y="459.2" font-size="14" text-anchor="start" font-weight="bold">j</text>
<line x1="55.8" y1="603.8" x2="215.5" y2="494.0" stroke="#111" stroke-width="1.2" stroke-dasharray="5,3.2"/>
<line x1="323.9" y1="616.2" x2="454.3" y2="459.7" stroke="#111" stroke-width="1.2" stroke-dasharray="5,3.2"/>
<line x1="536.5" y1="584.3" x2="696.3" y2="478.6" stroke="#111" stroke-width="1.2" stroke-dasharray="5,3.2"/>
<line x1="785.5" y1="601.9" x2="942.2" y2="507.2" stroke="#111" stroke-width="1.2" stroke-dasharray="5,3.2"/>
<text x="164.8" y="492.5" font-size="12.3" text-anchor="start" textLength="49.4" lengthAdjust="spacingAndGlyphs"><tspan font-style="italic">r</tspan><tspan font-size="8.8" dy="-4.7">2</tspan><tspan dy="4.7"> = 0.88</tspan></text>
<text x="390.1" y="476.2" font-size="12.3" text-anchor="start" textLength="49.6" lengthAdjust="spacingAndGlyphs"><tspan font-style="italic">r</tspan><tspan font-size="8.8" dy="-4.7">2</tspan><tspan dy="4.7"> = 0.84</tspan></text>
<text x="635.2" y="485.8" font-size="12.3" text-anchor="start" textLength="48.7" lengthAdjust="spacingAndGlyphs"><tspan font-style="italic">r</tspan><tspan font-size="8.8" dy="-4.7">2</tspan><tspan dy="4.7"> = 0.45</tspan></text>
<text x="893.0" y="504.5" font-size="12.3" text-anchor="start" textLength="47.9" lengthAdjust="spacingAndGlyphs"><tspan font-style="italic">r</tspan><tspan font-size="8.8" dy="-4.7">2</tspan><tspan dy="4.7"> = 0.22</tspan></text>
<line x1="147.6" y1="518.8" x2="167.2" y2="518.8" stroke="#2f9a3a" stroke-width="1.1"/>
<line x1="147.6" y1="516.3" x2="147.6" y2="521.3" stroke="#2f9a3a" stroke-width="1.1"/>
<line x1="167.2" y1="516.3" x2="167.2" y2="521.3" stroke="#2f9a3a" stroke-width="1.1"/>
<rect x="156.50" y="514.30" width="8.8" height="8.8" stroke="#2f9a3a" stroke-width="1.2" fill="white"/>
<path d="M159.30,515.90H162.50M160.90,515.90V521.50M159.30,521.50H162.50" stroke="#2f9a3a" stroke-width="1" fill="none"/>
<line x1="169.7" y1="513.5" x2="190.3" y2="513.5" stroke="#2f9a3a" stroke-width="1.1"/>
<line x1="169.7" y1="511.0" x2="169.7" y2="516.0" stroke="#2f9a3a" stroke-width="1.1"/>
<line x1="190.3" y1="511.0" x2="190.3" y2="516.0" stroke="#2f9a3a" stroke-width="1.1"/>
<rect x="171.50" y="509.10" width="8.8" height="8.8" stroke="#2f9a3a" stroke-width="1.2" fill="white"/>
<path d="M174.30,510.70H177.50M175.90,510.70V516.30M174.30,516.30H177.50" stroke="#2f9a3a" stroke-width="1" fill="none"/>
<line x1="165" y1="519.2" x2="182.5" y2="519.2" stroke="#2f9a3a" stroke-width="1.1"/>
<line x1="165" y1="516.7" x2="165" y2="521.7" stroke="#2f9a3a" stroke-width="1.1"/>
<line x1="182.5" y1="516.7" x2="182.5" y2="521.7" stroke="#2f9a3a" stroke-width="1.1"/>
<rect x="168.20" y="514.80" width="8.8" height="8.8" stroke="#2f9a3a" stroke-width="1.2" fill="white"/>
<path d="M171.00,516.40H174.20M172.60,516.40V522.00M171.00,522.00H174.20" stroke="#2f9a3a" stroke-width="1" fill="none"/>
<line x1="145.8" y1="533.0" x2="167.2" y2="533.0" stroke="#e0262e" stroke-width="1.1"/>
<line x1="145.8" y1="530.5" x2="145.8" y2="535.5" stroke="#e0262e" stroke-width="1.1"/>
<line x1="167.2" y1="530.5" x2="167.2" y2="535.5" stroke="#e0262e" stroke-width="1.1"/>
<rect x="150.20" y="528.60" width="8.8" height="8.8" stroke="#e0262e" stroke-width="1.2" fill="white"/>
<path d="M153.00,530.20H156.20M154.60,530.20V535.80M153.00,535.80H156.20" stroke="#e0262e" stroke-width="1" fill="none"/>
<rect x="153.60" y="529.10" width="8.8" height="8.8" stroke="#e0262e" stroke-width="1.2" fill="white"/>
<path d="M156.40,530.70H159.60M158.00,530.70V536.30M156.40,536.30H159.60" stroke="#e0262e" stroke-width="1" fill="none"/>
<line x1="160" y1="536.2" x2="184.6" y2="536.2" stroke="#e0262e" stroke-width="1.1"/>
<line x1="160" y1="533.7" x2="160" y2="538.7" stroke="#e0262e" stroke-width="1.1"/>
<line x1="184.6" y1="533.7" x2="184.6" y2="538.7" stroke="#e0262e" stroke-width="1.1"/>
<rect x="164.50" y="528.60" width="8.8" height="8.8" stroke="#e0262e" stroke-width="1.2" fill="white"/>
<path d="M167.30,530.20H170.50M168.90,530.20V535.80M167.30,535.80H170.50" stroke="#e0262e" stroke-width="1" fill="none"/>
<rect x="166.30" y="531.80" width="8.8" height="8.8" stroke="#e0262e" stroke-width="1.2" fill="white"/>
<path d="M169.10,533.40H172.30M170.70,533.40V539.00M169.10,539.00H172.30" stroke="#e0262e" stroke-width="1" fill="none"/>
<line x1="152.4" y1="542.2" x2="170.9" y2="542.2" stroke="#e0262e" stroke-width="1.1"/>
<line x1="152.4" y1="539.7" x2="152.4" y2="544.7" stroke="#e0262e" stroke-width="1.1"/>
<line x1="170.9" y1="539.7" x2="170.9" y2="544.7" stroke="#e0262e" stroke-width="1.1"/>
<rect x="156.45" y="537.45" width="9.5" height="9.5" stroke="#e0262e" stroke-width="1.2" fill="white"/>
<path d="M159.60,539.40H162.80M161.20,539.40V545.00M159.60,545.00H162.80" stroke="#e0262e" stroke-width="1" fill="none"/>
<line x1="111.4" y1="547.8" x2="147.7" y2="547.8" stroke="#3333d4" stroke-width="1.1"/>
<line x1="111.4" y1="545.3" x2="111.4" y2="550.3" stroke="#3333d4" stroke-width="1.1"/>
<line x1="147.7" y1="545.3" x2="147.7" y2="550.3" stroke="#3333d4" stroke-width="1.1"/>
<rect x="125.00" y="543.30" width="8.8" height="8.8" stroke="#3333d4" stroke-width="1.2" fill="white"/>
<path d="M127.80,544.90H131.00M129.40,544.90V550.50M127.80,550.50H131.00" stroke="#3333d4" stroke-width="1" fill="none"/>
<line x1="111.8" y1="556.7" x2="136.2" y2="556.7" stroke="#3333d4" stroke-width="1.1"/>
<line x1="111.8" y1="554.2" x2="111.8" y2="559.2" stroke="#3333d4" stroke-width="1.1"/>
<line x1="136.2" y1="554.2" x2="136.2" y2="559.2" stroke="#3333d4" stroke-width="1.1"/>
<rect x="119.60" y="552.30" width="8.8" height="8.8" stroke="#3333d4" stroke-width="1.2" fill="white"/>
<path d="M122.40,553.90H125.60M124.00,553.90V559.50M122.40,559.50H125.60" stroke="#3333d4" stroke-width="1" fill="none"/>
<rect x="112.85" y="559.45" width="9.5" height="9.5" rx="1.1" fill="#0a0a0a"/>
<rect x="92.60" y="572.60" width="8.8" height="8.8" stroke="#3333d4" stroke-width="1.2" fill="white"/>
<path d="M95.40,574.20H98.60M97.00,574.20V579.80M95.40,579.80H98.60" stroke="#3333d4" stroke-width="1" fill="none"/>
<line x1="104" y1="574.0" x2="116.7" y2="574.0" stroke="#1e1e1e" stroke-width="1.1"/>
<line x1="104" y1="571.5" x2="104" y2="576.5" stroke="#1e1e1e" stroke-width="1.1"/>
<line x1="116.7" y1="571.5" x2="116.7" y2="576.5" stroke="#1e1e1e" stroke-width="1.1"/>
<rect x="104.90" y="569.60" width="8.8" height="8.8" stroke="#1e1e1e" stroke-width="1.2" fill="white"/>
<path d="M107.70,571.20H110.90M109.30,571.20V576.80M107.70,576.80H110.90" stroke="#1e1e1e" stroke-width="1" fill="none"/>
<rect x="94.80" y="570.90" width="9.8" height="9.8" stroke="#e8913e" stroke-width="1.2" fill="white"/>
<path d="M98.10,573.00H101.30M99.70,573.00V578.60M98.10,578.60H101.30" stroke="#e8913e" stroke-width="1" fill="none"/>
<line x1="414.9" y1="481.1" x2="414.9" y2="526.5" stroke="#2f9a3a" stroke-width="1.1"/>
<line x1="412.4" y1="481.1" x2="417.4" y2="481.1" stroke="#2f9a3a" stroke-width="1.1"/>
<line x1="412.4" y1="526.5" x2="417.4" y2="526.5" stroke="#2f9a3a" stroke-width="1.1"/>
<rect x="410.50" y="499.80" width="8.8" height="8.8" stroke="#2f9a3a" stroke-width="1.2" fill="white"/>
<line x1="384.2" y1="506.7" x2="384.2" y2="541.3" stroke="#2f9a3a" stroke-width="1.1"/>
<line x1="381.7" y1="506.7" x2="386.7" y2="506.7" stroke="#2f9a3a" stroke-width="1.1"/>
<line x1="381.7" y1="541.3" x2="386.7" y2="541.3" stroke="#2f9a3a" stroke-width="1.1"/>
<rect x="379.80" y="519.60" width="8.8" height="8.8" stroke="#2f9a3a" stroke-width="1.2" fill="white"/>
<line x1="387.3" y1="527.7" x2="387.3" y2="571.9" stroke="#e0262e" stroke-width="1.1"/>
<line x1="384.8" y1="527.7" x2="389.8" y2="527.7" stroke="#e0262e" stroke-width="1.1"/>
<line x1="384.8" y1="571.9" x2="389.8" y2="571.9" stroke="#e0262e" stroke-width="1.1"/>
<line x1="392.7" y1="524.1" x2="392.7" y2="566.5" stroke="#e0262e" stroke-width="1.1"/>
<line x1="390.2" y1="524.1" x2="395.2" y2="524.1" stroke="#e0262e" stroke-width="1.1"/>
<line x1="390.2" y1="566.5" x2="395.2" y2="566.5" stroke="#e0262e" stroke-width="1.1"/>
<line x1="389.5" y1="529.5" x2="389.5" y2="557.5" stroke="#2f9a3a" stroke-width="1.1"/>
<line x1="387.0" y1="529.5" x2="392.0" y2="529.5" stroke="#2f9a3a" stroke-width="1.1"/>
<line x1="387.0" y1="557.5" x2="392.0" y2="557.5" stroke="#2f9a3a" stroke-width="1.1"/>
<rect x="382.90" y="545.90" width="8.8" height="8.8" stroke="#e0262e" stroke-width="1.2" fill="white"/>
<rect x="388.30" y="540.50" width="8.8" height="8.8" stroke="#e0262e" stroke-width="1.2" fill="white"/>
<rect x="385.10" y="539.40" width="8.8" height="8.8" stroke="#2f9a3a" stroke-width="1.2" fill="white"/>
<line x1="374.0" y1="534.4" x2="374.0" y2="565.6" stroke="#3333d4" stroke-width="1.1"/>
<line x1="371.5" y1="534.4" x2="376.5" y2="534.4" stroke="#3333d4" stroke-width="1.1"/>
<line x1="371.5" y1="565.6" x2="376.5" y2="565.6" stroke="#3333d4" stroke-width="1.1"/>
<rect x="369.30" y="545.80" width="8.8" height="8.8" stroke="#3333d4" stroke-width="1.2" fill="white"/>
<line x1="358.4" y1="533.7" x2="358.4" y2="580.9" stroke="#1e1e1e" stroke-width="1.1"/>
<line x1="355.9" y1="533.7" x2="360.9" y2="533.7" stroke="#1e1e1e" stroke-width="1.1"/>
<line x1="355.9" y1="580.9" x2="360.9" y2="580.9" stroke="#1e1e1e" stroke-width="1.1"/>
<rect x="354.30" y="552.60" width="8.8" height="8.8" stroke="#1e1e1e" stroke-width="1.2" fill="white"/>
<line x1="367.8" y1="539.5" x2="367.8" y2="575.5" stroke="#1e1e1e" stroke-width="1.1"/>
<line x1="365.3" y1="539.5" x2="370.3" y2="539.5" stroke="#1e1e1e" stroke-width="1.1"/>
<line x1="365.3" y1="575.5" x2="370.3" y2="575.5" stroke="#1e1e1e" stroke-width="1.1"/>
<rect x="363.40" y="553.60" width="8.8" height="8.8" stroke="#1e1e1e" stroke-width="1.2" fill="white"/>
<line x1="357.1" y1="562" x2="357.1" y2="578.2" stroke="#e8913e" stroke-width="1.1"/>
<line x1="354.6" y1="562" x2="359.6" y2="562" stroke="#e8913e" stroke-width="1.1"/>
<line x1="354.6" y1="578.2" x2="359.6" y2="578.2" stroke="#e8913e" stroke-width="1.1"/>
<rect x="352.70" y="561.60" width="8.8" height="8.8" stroke="#e8913e" stroke-width="1.2" fill="white"/>
<line x1="349.4" y1="573.5" x2="349.4" y2="590" stroke="#3333d4" stroke-width="1.1"/>
<line x1="346.9" y1="573.5" x2="351.9" y2="573.5" stroke="#3333d4" stroke-width="1.1"/>
<line x1="346.9" y1="590" x2="351.9" y2="590" stroke="#3333d4" stroke-width="1.1"/>
<rect x="345.00" y="581.10" width="8.8" height="8.8" stroke="#3333d4" stroke-width="1.2" fill="white"/>
<rect x="346.70" y="582.30" width="8.8" height="8.8" stroke="#e0262e" stroke-width="1.2" fill="white"/>
<rect x="338.20" y="592.20" width="8.8" height="8.8" stroke="#3333d4" stroke-width="1.2" fill="white"/>
<rect x="344.25" y="588.75" width="8.5" height="8.5" rx="1.1" fill="#0a0a0a"/>
<line x1="354.9" y1="598" x2="354.9" y2="607.3" stroke="#e0262e" stroke-width="1.1"/>
<line x1="352.4" y1="598" x2="357.4" y2="598" stroke="#e0262e" stroke-width="1.1"/>
<line x1="352.4" y1="607.3" x2="357.4" y2="607.3" stroke="#e0262e" stroke-width="1.1"/>
<rect x="350.50" y="594.10" width="8.8" height="8.8" stroke="#e0262e" stroke-width="1.2" fill="white"/>
<line x1="643.7" y1="468.8" x2="663.9" y2="468.8" stroke="#2f9a3a" stroke-width="1.1"/>
<line x1="643.7" y1="466.3" x2="643.7" y2="471.3" stroke="#2f9a3a" stroke-width="1.1"/>
<line x1="663.9" y1="466.3" x2="663.9" y2="471.3" stroke="#2f9a3a" stroke-width="1.1"/>
<rect x="649.30" y="464.40" width="8.8" height="8.8" stroke="#2f9a3a" stroke-width="1.2" fill="white"/>
<line x1="637.0" y1="498.8" x2="665.8" y2="498.8" stroke="#e0262e" stroke-width="1.1"/>
<line x1="637.0" y1="496.3" x2="637.0" y2="501.3" stroke="#e0262e" stroke-width="1.1"/>
<line x1="665.8" y1="496.3" x2="665.8" y2="501.3" stroke="#e0262e" stroke-width="1.1"/>
<rect x="647.10" y="494.40" width="8.8" height="8.8" stroke="#e0262e" stroke-width="1.2" fill="white"/>
<line x1="628.2" y1="510.0" x2="656.0" y2="510.0" stroke="#2f9a3a" stroke-width="1.1"/>
<line x1="628.2" y1="507.5" x2="628.2" y2="512.5" stroke="#2f9a3a" stroke-width="1.1"/>
<line x1="656.0" y1="507.5" x2="656.0" y2="512.5" stroke="#2f9a3a" stroke-width="1.1"/>
<rect x="638.10" y="505.60" width="8.8" height="8.8" stroke="#2f9a3a" stroke-width="1.2" fill="white"/>
<line x1="645.0" y1="503.4" x2="671.3" y2="503.4" stroke="#2f9a3a" stroke-width="1.1"/>
<line x1="645.0" y1="500.9" x2="645.0" y2="505.9" stroke="#2f9a3a" stroke-width="1.1"/>
<line x1="671.3" y1="500.9" x2="671.3" y2="505.9" stroke="#2f9a3a" stroke-width="1.1"/>
<rect x="652.60" y="499.00" width="8.8" height="8.8" stroke="#2f9a3a" stroke-width="1.2" fill="white"/>
<line x1="592.6" y1="523.0" x2="617.6" y2="523.0" stroke="#3333d4" stroke-width="1.1"/>
<line x1="592.6" y1="520.5" x2="592.6" y2="525.5" stroke="#3333d4" stroke-width="1.1"/>
<line x1="617.6" y1="520.5" x2="617.6" y2="525.5" stroke="#3333d4" stroke-width="1.1"/>
<rect x="600.60" y="518.60" width="8.8" height="8.8" stroke="#3333d4" stroke-width="1.2" fill="white"/>
<line x1="580.0" y1="531.2" x2="597.6" y2="531.2" stroke="#1e1e1e" stroke-width="1.1"/>
<line x1="580.0" y1="528.7" x2="580.0" y2="533.7" stroke="#1e1e1e" stroke-width="1.1"/>
<line x1="597.6" y1="528.7" x2="597.6" y2="533.7" stroke="#1e1e1e" stroke-width="1.1"/>
<rect x="584.60" y="526.80" width="8.8" height="8.8" stroke="#1e1e1e" stroke-width="1.2" fill="white"/>
<rect x="576.60" y="539.10" width="8.8" height="8.8" stroke="#1e1e1e" stroke-width="1.2" fill="white"/>
<rect x="576.20" y="540.50" width="10" height="10" stroke="#e8913e" stroke-width="1.2" fill="white"/>
<line x1="571.6" y1="555.5" x2="585.2" y2="555.5" stroke="#3333d4" stroke-width="1.1"/>
<line x1="571.6" y1="553.0" x2="571.6" y2="558.0" stroke="#3333d4" stroke-width="1.1"/>
<line x1="585.2" y1="553.0" x2="585.2" y2="558.0" stroke="#3333d4" stroke-width="1.1"/>
<rect x="574.10" y="551.10" width="8.8" height="8.8" stroke="#3333d4" stroke-width="1.2" fill="white"/>
<rect x="593.55" y="552.55" width="9.5" height="9.5" rx="1.1" fill="#0a0a0a"/>
<line x1="592.4" y1="565.0" x2="628.9" y2="565.0" stroke="#3333d4" stroke-width="1.1"/>
<line x1="592.4" y1="562.5" x2="592.4" y2="567.5" stroke="#3333d4" stroke-width="1.1"/>
<line x1="628.9" y1="562.5" x2="628.9" y2="567.5" stroke="#3333d4" stroke-width="1.1"/>
<rect x="606.10" y="560.60" width="8.8" height="8.8" stroke="#3333d4" stroke-width="1.2" fill="white"/>
<line x1="633.0" y1="548.5" x2="651.6" y2="548.5" stroke="#e0262e" stroke-width="1.1"/>
<line x1="633.0" y1="546.0" x2="633.0" y2="551.0" stroke="#e0262e" stroke-width="1.1"/>
<line x1="651.6" y1="546.0" x2="651.6" y2="551.0" stroke="#e0262e" stroke-width="1.1"/>
<rect x="637.70" y="544.10" width="8.8" height="8.8" stroke="#e0262e" stroke-width="1.2" fill="white"/>
<line x1="626.6" y1="553.3" x2="645.6" y2="553.3" stroke="#e0262e" stroke-width="1.1"/>
<line x1="626.6" y1="550.8" x2="626.6" y2="555.8" stroke="#e0262e" stroke-width="1.1"/>
<line x1="645.6" y1="550.8" x2="645.6" y2="555.8" stroke="#e0262e" stroke-width="1.1"/>
<rect x="631.40" y="548.90" width="8.8" height="8.8" stroke="#e0262e" stroke-width="1.2" fill="white"/>
<line x1="826.9" y1="533.8" x2="826.9" y2="576.3" stroke="#1e1e1e" stroke-width="1.1"/>
<line x1="824.4" y1="533.8" x2="829.4" y2="533.8" stroke="#1e1e1e" stroke-width="1.1"/>
<line x1="824.4" y1="576.3" x2="829.4" y2="576.3" stroke="#1e1e1e" stroke-width="1.1"/>
<line x1="825.5" y1="538" x2="825.5" y2="570" stroke="#1e1e1e" stroke-width="1.1"/>
<line x1="823.0" y1="538" x2="828.0" y2="538" stroke="#1e1e1e" stroke-width="1.1"/>
<line x1="823.0" y1="570" x2="828.0" y2="570" stroke="#1e1e1e" stroke-width="1.1"/>
<rect x="822.90" y="553.30" width="8.8" height="8.8" stroke="#1e1e1e" stroke-width="1.2" fill="white"/>
<path d="M824.50,556.10V559.30M824.50,557.70H830.10M830.10,556.10V559.30" stroke="#1e1e1e" stroke-width="1" fill="none"/>
<line x1="825.3" y1="558" x2="825.3" y2="575" stroke="#e8913e" stroke-width="1.1"/>
<line x1="822.8" y1="558" x2="827.8" y2="558" stroke="#e8913e" stroke-width="1.1"/>
<line x1="822.8" y1="575" x2="827.8" y2="575" stroke="#e8913e" stroke-width="1.1"/>
<rect x="820.90" y="562.10" width="8.8" height="8.8" stroke="#e8913e" stroke-width="1.2" fill="white"/>
<path d="M822.50,564.90V568.10M822.50,566.50H828.10M828.10,564.90V568.10" stroke="#e8913e" stroke-width="1" fill="none"/>
<line x1="824.5" y1="573.3" x2="824.5" y2="597.8" stroke="#3333d4" stroke-width="1.1"/>
<line x1="822.0" y1="573.3" x2="827.0" y2="573.3" stroke="#3333d4" stroke-width="1.1"/>
<line x1="822.0" y1="597.8" x2="827.0" y2="597.8" stroke="#3333d4" stroke-width="1.1"/>
<rect x="820.10" y="580.90" width="8.8" height="8.8" stroke="#3333d4" stroke-width="1.2" fill="white"/>
<path d="M821.70,583.70V586.90M821.70,585.30H827.30M827.30,583.70V586.90" stroke="#3333d4" stroke-width="1" fill="none"/>
<line x1="844.8" y1="534.7" x2="844.8" y2="565.8" stroke="#3333d4" stroke-width="1.1"/>
<line x1="842.3" y1="534.7" x2="847.3" y2="534.7" stroke="#3333d4" stroke-width="1.1"/>
<line x1="842.3" y1="565.8" x2="847.3" y2="565.8" stroke="#3333d4" stroke-width="1.1"/>
<rect x="840.40" y="546.10" width="8.8" height="8.8" stroke="#3333d4" stroke-width="1.2" fill="white"/>
<path d="M842.00,548.90V552.10M842.00,550.50H847.60M847.60,548.90V552.10" stroke="#3333d4" stroke-width="1" fill="none"/>
<rect x="832.90" y="589.30" width="9" height="9" rx="1.1" fill="#0a0a0a"/>
<rect x="848.80" y="592.60" width="8.8" height="8.8" stroke="#3333d4" stroke-width="1.2" fill="white"/>
<path d="M850.40,595.40V598.60M850.40,597.00H856.00M856.00,595.40V598.60" stroke="#3333d4" stroke-width="1" fill="none"/>
<line x1="859.8" y1="589.4" x2="859.8" y2="607.1" stroke="#e0262e" stroke-width="1.1"/>
<line x1="857.3" y1="589.4" x2="862.3" y2="589.4" stroke="#e0262e" stroke-width="1.1"/>
<line x1="857.3" y1="607.1" x2="862.3" y2="607.1" stroke="#e0262e" stroke-width="1.1"/>
<rect x="855.40" y="594.00" width="8.8" height="8.8" stroke="#e0262e" stroke-width="1.2" fill="white"/>
<path d="M857.00,596.80V600.00M857.00,598.40H862.60M862.60,596.80V600.00" stroke="#e0262e" stroke-width="1" fill="none"/>
<rect x="863.50" y="583.00" width="8.8" height="8.8" stroke="#e0262e" stroke-width="1.2" fill="white"/>
<path d="M865.10,585.80V589.00M865.10,587.40H870.70M870.70,585.80V589.00" stroke="#e0262e" stroke-width="1" fill="none"/>
<line x1="864.4" y1="524.2" x2="864.4" y2="566.6" stroke="#e0262e" stroke-width="1.1"/>
<line x1="861.9" y1="524.2" x2="866.9" y2="524.2" stroke="#e0262e" stroke-width="1.1"/>
<line x1="861.9" y1="566.6" x2="866.9" y2="566.6" stroke="#e0262e" stroke-width="1.1"/>
<rect x="860.10" y="541.20" width="8.8" height="8.8" stroke="#e0262e" stroke-width="1.2" fill="white"/>
<path d="M861.70,544.00V547.20M861.70,545.60H867.30M867.30,544.00V547.20" stroke="#e0262e" stroke-width="1" fill="none"/>
<line x1="867.9" y1="529.3" x2="867.9" y2="571.8" stroke="#e0262e" stroke-width="1.1"/>
<line x1="865.4" y1="529.3" x2="870.4" y2="529.3" stroke="#e0262e" stroke-width="1.1"/>
<line x1="865.4" y1="571.8" x2="870.4" y2="571.8" stroke="#e0262e" stroke-width="1.1"/>
<rect x="864.30" y="546.50" width="8.8" height="8.8" stroke="#e0262e" stroke-width="1.2" fill="white"/>
<path d="M865.90,549.30V552.50M865.90,550.90H871.50M871.50,549.30V552.50" stroke="#e0262e" stroke-width="1" fill="none"/>
<line x1="882.5" y1="480.8" x2="882.5" y2="520" stroke="#2f9a3a" stroke-width="1.1"/>
<line x1="880.0" y1="480.8" x2="885.0" y2="480.8" stroke="#2f9a3a" stroke-width="1.1"/>
<line x1="880.0" y1="520" x2="885.0" y2="520" stroke="#2f9a3a" stroke-width="1.1"/>
<rect x="878.00" y="499.40" width="8.8" height="8.8" stroke="#2f9a3a" stroke-width="1.2" fill="white"/>
<path d="M879.60,502.20V505.40M879.60,503.80H885.20M885.20,502.20V505.40" stroke="#2f9a3a" stroke-width="1" fill="none"/>
<rect x="878.60" y="519.60" width="8.8" height="8.8" stroke="#2f9a3a" stroke-width="1.2" fill="white"/>
<path d="M880.20,522.40V525.60M880.20,524.00H885.80M885.80,522.40V525.60" stroke="#2f9a3a" stroke-width="1" fill="none"/>
<line x1="886.9" y1="530.5" x2="886.9" y2="557.5" stroke="#2f9a3a" stroke-width="1.1"/>
<line x1="884.4" y1="530.5" x2="889.4" y2="530.5" stroke="#2f9a3a" stroke-width="1.1"/>
<line x1="884.4" y1="557.5" x2="889.4" y2="557.5" stroke="#2f9a3a" stroke-width="1.1"/>
<rect x="883.20" y="539.30" width="8.8" height="8.8" stroke="#2f9a3a" stroke-width="1.2" fill="white"/>
<path d="M884.80,542.10V545.30M884.80,543.70H890.40M890.40,542.10V545.30" stroke="#2f9a3a" stroke-width="1" fill="none"/>
</svg></body></html>
